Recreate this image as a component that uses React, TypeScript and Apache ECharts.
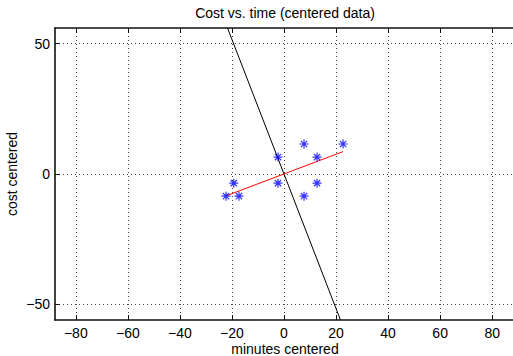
import React, { useEffect, useRef } from "react";
import * as echarts from "echarts";

const minutesCentered = [7.7, 22.7, -2.3, 12.7, -19.3, -2.3, 12.7, -22.3, -17.3, 7.7];
const costCentered = [11.5, 11.5, 6.5, 6.5, -3.5, -3.5, -3.5, -8.5, -8.5, -8.5];
const fitLine = [[-22.3, -8.4], [22.7, 8.6]];
const normalLine = [[-21.7, 56], [21.7, -56]];
const xTicks = [-80, -60, -40, -20, 0, 20, 40, 60, 80];
const yTicks = [-50, 0, 50];
const xRange = [-88, 88];
const yRange = [-56, 56];

const FONT = '"Liberation Sans", Arial, Helvetica, sans-serif';
const FS = 14;

const fmt = (v: number) => String(v).replace("-", "\u2212");

const ASTERISK = "path://M5,0L5,10M0,5L10,5M1.5,1.5L8.5,8.5M1.5,8.5L8.5,1.5";

export default function App() {
  const ref = useRef<HTMLDivElement>(null);
  useEffect(() => {
    if (!ref.current) return;
    const chart = echarts.init(ref.current, undefined, { renderer: "svg" });
    const gridLine = { show: true, lineStyle: { color: "#444", width: 1, type: [1, 3] as any } };
    const axisLine = { show: true, onZero: false, lineStyle: { color: "#111", width: 1.6 } };
    const scatterData = minutesCentered.map((x, i) => [x, costCentered[i]]);
    chart.setOption({
      animation: false,
      backgroundColor: "#fff",
      textStyle: { fontFamily: FONT },
      grid: { left: 55, top: 28, right: -2, bottom: 36, containLabel: false },
      xAxis: [
        {
          type: "value",
          min: xRange[0],
          max: xRange[1],
          position: "bottom",
          axisLine,
          axisTick: { show: true, inside: true, length: 5, customValues: xTicks, lineStyle: { color: "#111" } },
          axisLabel: {
            show: true,
            customValues: xTicks,
            formatter: fmt,
            color: "#000",
            fontSize: FS,
            fontFamily: FONT,
            margin: 6,
          },
          splitLine: gridLine,
        },
        {
          type: "value",
          min: xRange[0],
          max: xRange[1],
          position: "top",
          axisLine,
          axisTick: { show: true, inside: true, length: 5, customValues: xTicks, lineStyle: { color: "#111" } },
          axisLabel: { show: false },
          splitLine: { show: false },
        },
      ],
      yAxis: [
        {
          type: "value",
          min: yRange[0],
          max: yRange[1],
          position: "left",
          axisLine,
          axisTick: { show: true, inside: true, length: 5, customValues: yTicks, lineStyle: { color: "#111" } },
          axisLabel: {
            show: true,
            customValues: yTicks,
            formatter: fmt,
            color: "#000",
            fontSize: FS,
            fontFamily: FONT,
            margin: 5,
          },
          splitLine: gridLine,
        },
      ],
      graphic: [
        {
          type: "text",
          x: 285,
          y: 13,
          style: {
            text: "Cost vs. time (centered data)",
            fill: "#000",
            font: `${FS}px ${FONT}`,
            textAlign: "center",
            textVerticalAlign: "middle",
          },
        },
        {
          type: "text",
          x: 285,
          y: 349,
          style: {
            text: "minutes centered",
            fill: "#000",
            font: `${FS}px ${FONT}`,
            textAlign: "center",
            textVerticalAlign: "middle",
          },
        },
        {
          type: "text",
          x: 12,
          y: 174,
          rotation: Math.PI / 2,
          style: {
            text: "cost centered",
            fill: "#000",
            font: `${FS}px ${FONT}`,
            textAlign: "center",
            textVerticalAlign: "middle",
          },
        },
      ],
      series: [
        {
          type: "line",
          data: normalLine,
          showSymbol: false,
          symbol: "none",
          lineStyle: { color: "#000", width: 1 },
          clip: true,
          z: 3,
        },
        {
          type: "line",
          data: fitLine,
          showSymbol: false,
          symbol: "none",
          lineStyle: { color: "#ff0000", width: 1 },
          z: 4,
        },
        {
          type: "scatter",
          data: scatterData,
          symbol: ASTERISK,
          symbolSize: 9,
          itemStyle: { color: "none", borderColor: "#0000ff", borderWidth: 1.2 },
          z: 5,
        },
      ],
    });
    return () => chart.dispose();
  }, []);
  return (
    <div
      ref={ref}
      style={{ position: "fixed", left: 0, top: 0, width: 513, height: 356 }}
    />
  );
}
